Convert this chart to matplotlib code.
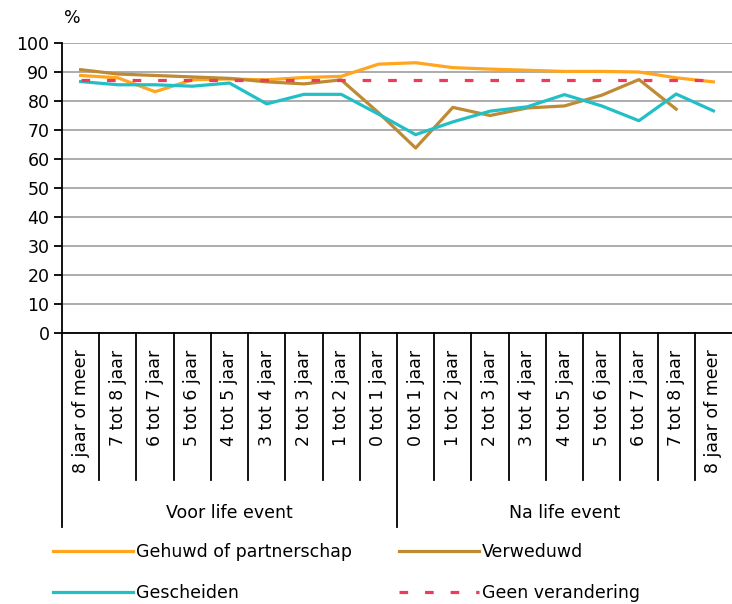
import matplotlib.pyplot as plt
from matplotlib.lines import Line2D
import matplotlib.transforms as mtransforms

plt.rcParams['font.family'] = ['DejaVu Sans']
plt.rcParams['font.size'] = 12.5

# Data
cats_voor = ["8 jaar of meer", "7 tot 8 jaar", "6 tot 7 jaar", "5 tot 6 jaar", "4 tot 5 jaar",
             "3 tot 4 jaar", "2 tot 3 jaar", "1 tot 2 jaar", "0 tot 1 jaar"]
cats_na = ["0 tot 1 jaar", "1 tot 2 jaar", "2 tot 3 jaar", "3 tot 4 jaar", "4 tot 5 jaar",
           "5 tot 6 jaar", "6 tot 7 jaar", "7 tot 8 jaar", "8 jaar of meer"]
groups = ["Voor life event", "Na life event"]

gehuwd = [88.8, 88.0, 83.2, 87.3, 87.6, 87.3, 88.1, 88.5, 92.7,
          93.2, 91.5, 91.0, 90.6, 90.2, 90.2, 90.0, 88.0, 86.6]
verweduwd = [90.8, 89.3, 88.8, 88.3, 87.8, 86.6, 85.9, 87.3, 76.0,
             63.8, 77.8, 75.0, 77.6, 78.3, 82.0, 87.4, 77.2, None]
gescheiden = [86.7, 85.6, 85.6, 85.1, 86.2, 79.0, 82.3, 82.3, 75.5,
              68.4, 72.8, 76.5, 78.0, 82.2, 78.3, 73.2, 82.4, 76.6]
geen = [87.3, 87.3, 87.3, 87.3, 87.3, 87.3, 87.3, 87.3, 87.3,
        87.3, 87.3, 87.3, 87.3, 87.3, 87.3, 87.3, 87.3, 87.3]

labels = cats_voor + cats_na
x = list(range(len(labels)))

c_geh = '#FFA51E'
c_ver = '#BF8A34'
c_ges = '#22BFC6'
c_geen = '#EE3B5C'

fig = plt.figure(figsize=(7.32, 6.04), dpi=100)
ax = fig.add_axes([62/732, 1 - 333/604, 670/732, 290/604])

lw = 2.3
ax.plot(x, gehuwd, color=c_geh, lw=lw, label='Gehuwd of partnerschap')
xv = [i for i, v in zip(x, verweduwd) if v is not None]
yv = [v for v in verweduwd if v is not None]
ax.plot(xv, yv, color=c_ver, lw=lw, label='Verweduwd')
ax.plot(x, gescheiden, color=c_ges, lw=lw, label='Gescheiden')
ax.plot(x, geen, color=c_geen, lw=lw, linestyle=(0, (2.7, 5.3)), label='Geen verandering')

ax.set_ylim(0, 100)
ax.set_xlim(-0.5, len(labels) - 0.5)
ax.set_yticks(range(0, 101, 10))
ax.yaxis.grid(True, color='#A6A6A6', lw=1.3)
ax.set_axisbelow(True)
for s in ['top', 'right']:
    ax.spines[s].set_visible(False)
ax.spines['left'].set_color('black')
ax.spines['left'].set_linewidth(1.3)
ax.spines['bottom'].set_color('black')
ax.spines['bottom'].set_linewidth(1.3)
ax.tick_params(axis='y', length=6, width=1.3, direction='out', pad=3)

ax.set_xticks(x)
ax.set_xticklabels(labels, rotation=90, va='top', ha='center')
ax.tick_params(axis='x', length=0, pad=12)

fig.text(72/732, 1 - 18/604, '%', ha='center', va='center')

# category separators below the axis
trans = mtransforms.blended_transform_factory(ax.transData, fig.transFigure)
y_axis = 1 - 333/604
y_short = 1 - 480/604
y_long = 1 - 527/604
n_voor = len(cats_voor)
for b in range(len(labels)):
    xb = b - 0.5
    y_end = y_long if b in (0, n_voor) else y_short
    ax.add_line(Line2D([xb, xb], [y_axis, y_end], transform=trans, color='black', lw=1.3, clip_on=False))

ax.text((n_voor - 1) / 2, 1 - 513/604, groups[0], transform=trans, ha='center', va='center')
ax.text(n_voor + (len(cats_na) - 1) / 2, 1 - 513/604, groups[1], transform=trans, ha='center', va='center')

h = ax.get_legend_handles_labels()
order = [0, 2, 1, 3]
fig.legend([h[0][i] for i in order], [h[1][i] for i in order], ncol=2, frameon=False,
           loc='upper left', bbox_to_anchor=(48/732, 1 - 538/604),
           handlelength=4.6, handletextpad=0.15, columnspacing=2.75, labelspacing=1.3,
           borderaxespad=0, borderpad=0.3)

fig.savefig('out.png', dpi=100)
